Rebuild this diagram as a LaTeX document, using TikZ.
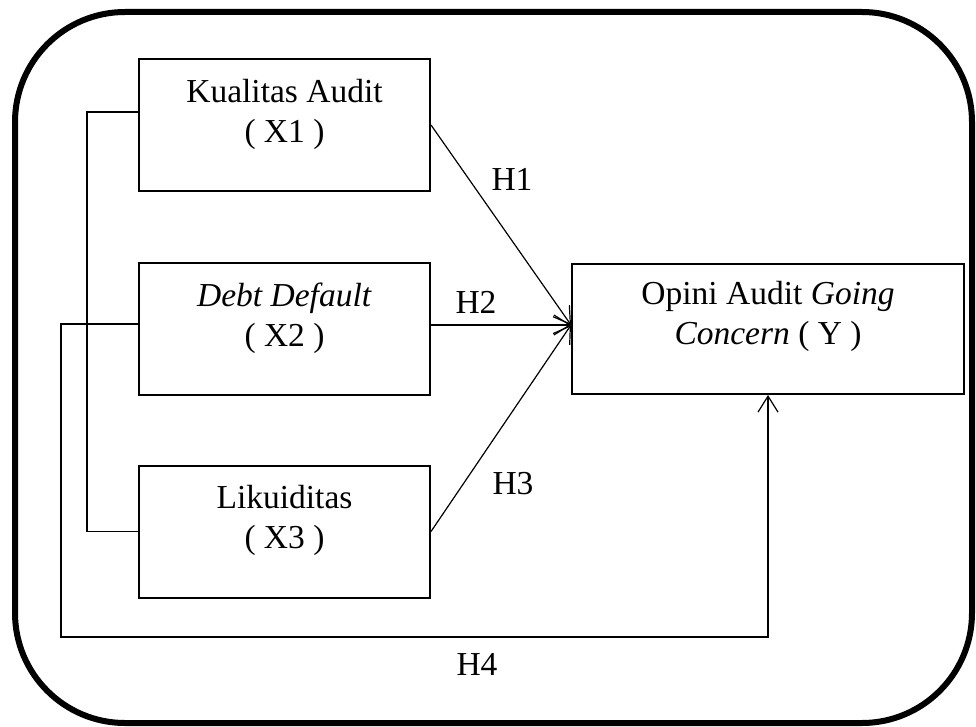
\documentclass[tikz,border=0pt]{standalone}
\usepackage{fontspec}
\setmainfont{Liberation Serif}
\usetikzlibrary{arrows.meta}
\begin{document}
\begin{tikzpicture}[x=1pt, y=-1pt,
varbox/.style={rectangle, draw=black, line width=2pt, minimum width=291pt, minimum height=132pt},
caption/.style={align=center, font=\fontsize{33.5}{40}\selectfont},
hyp/.style={font=\fontsize{33.5}{40}\selectfont},
link/.style={draw=black, line width=1.2pt},
effect/.style={link, -{Straight Barb[length=16pt,width=20pt]}},
]
\useasboundingbox (0,0) rectangle (976,727);
\draw[line width=6pt, rounded corners=110pt] (15,12) rectangle (972,723);
% variables
\node[varbox] (x1) at (284.5,125) {};
\node[varbox] (x2) at (284.5,329) {};
\node[varbox] (x3) at (284.5,531.5) {};
\node[varbox, minimum width=392pt, minimum height=130pt] (y) at (768,329) {};
\node[caption] (x1t) at ([yshift=11pt]x1.center) {Kualitas Audit\\( X1 )};
\node[caption] (x2t) at ([yshift=11pt]x2.center) {\textit{Debt Default}\\( X2 )};
\node[caption] (x3t) at ([yshift=11pt]x3.center) {Likuiditas\\( X3 )};
\node[caption] (yt) at ([yshift=13pt]y.center) {Opini Audit \textit{Going}\\\textit{Concern} ( Y )};
% hypotheses
\coordinate (yin) at ([yshift=4pt]y.west);
\draw[effect] (x1.east) -- (yin);
\draw[effect] ([yshift=4pt]x2.east) -- (yin);
\draw[effect] (x3.east) -- (yin);
\draw[link] ([yshift=13pt]x1.west) -- ++(-51,0) |- (x3.west);
\coordinate (h4c) at (61,637);
\draw[effect] ([yshift=5pt]x2.west) -| (h4c) -| (y.south);
\node[hyp] (h1) at (512,179) {H1};
\node[hyp] (h2) at (476,302) {H2};
\node[hyp] (h3) at (513,484) {H3};
\node[hyp] (h4) at (477,664) {H4};
\end{tikzpicture}
\end{document}
